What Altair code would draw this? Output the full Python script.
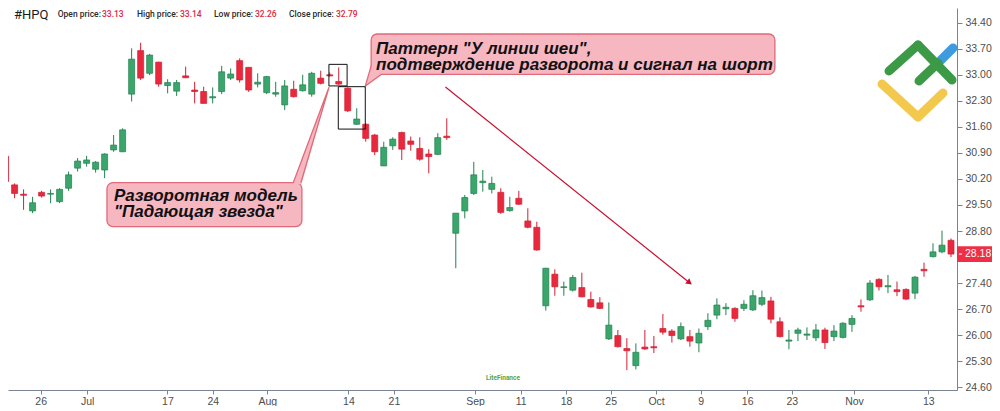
import altair as alt
import pandas as pd

# ---------------- data ----------------
opens = [30.81, 30.04, 29.79, 29.34, 29.84, 29.79, 29.59, 29.95, 30.49, 30.62,
         30.46, 30.44, 30.98, 30.93, 32.48, 33.65, 33.04, 33.34, 32.71, 32.56,
         32.97, 32.59, 32.55, 32.38, 32.55, 32.91, 33.38, 33.20, 32.75, 32.52,
         32.48, 32.19, 32.61, 32.57, 32.48, 32.91, 33.00, 32.82, 32.64, 31.67,
         31.67, 31.38, 30.55, 31.09, 31.45, 31.22, 31.02, 30.87, 30.86, 31.35,
         28.74, 29.34, 29.81, 30.10, 29.92, 29.84, 29.35, 29.68, 29.07, 28.90,
         26.79, 27.64, 27.28, 27.21, 27.28, 26.96, 26.87, 25.90, 25.99, 25.64,
         25.18, 25.68, 25.69, 26.18, 26.11, 25.90, 25.96, 25.79, 26.23, 26.54,
         26.71, 26.72, 26.72, 26.68, 26.83, 26.92, 26.36, 25.84, 26.05, 26.00,
         25.93, 26.14, 25.96, 25.94, 26.29, 26.79, 26.95, 27.50, 27.30, 27.22,
         27.23, 27.13, 27.77, 28.11, 28.24, 28.55]
highs = [30.90, 30.08, 29.92, 29.72, 29.88, 29.92, 29.95, 30.40, 30.76, 30.82,
         30.68, 30.89, 31.38, 31.56, 33.71, 33.86, 33.56, 33.35, 32.88, 32.86,
         33.22, 32.81, 32.68, 32.66, 33.24, 33.17, 33.44, 33.20, 33.04, 32.97,
         32.81, 32.86, 32.84, 33.00, 33.08, 33.11, 33.06, 33.20, 32.66, 32.10,
         31.70, 31.41, 31.20, 31.32, 31.47, 31.34, 31.32, 31.00, 31.43, 31.83,
         29.28, 29.77, 30.66, 30.44, 30.26, 29.95, 29.72, 29.88, 29.41, 29.05,
         27.81, 27.77, 27.44, 27.62, 27.68, 27.17, 27.02, 26.88, 26.14, 25.92,
         25.78, 26.14, 25.98, 26.57, 26.16, 26.34, 26.14, 26.18, 26.59, 26.99,
         26.86, 26.75, 26.94, 27.21, 27.20, 27.03, 26.48, 26.14, 26.20, 26.21,
         26.30, 26.20, 26.27, 26.35, 26.54, 26.96, 27.48, 27.53, 27.62, 27.44,
         27.26, 27.59, 27.95, 28.47, 28.81, 28.60]
lows = [30.05, 29.68, 29.37, 29.28, 29.70, 29.55, 29.55, 29.88, 30.40, 30.53,
        30.37, 30.22, 30.93, 30.93, 32.28, 32.86, 32.99, 32.68, 32.50, 32.43,
        32.91, 32.23, 32.23, 32.23, 32.48, 32.86, 32.79, 32.54, 32.66, 32.48,
        32.41, 32.05, 32.39, 32.55, 32.41, 32.74, 32.95, 32.73, 32.00, 31.65,
        31.20, 30.84, 30.55, 30.98, 30.71, 30.96, 30.69, 30.35, 30.84, 31.25,
        27.80, 29.14, 29.77, 29.86, 29.81, 29.26, 29.32, 29.50, 28.87, 28.27,
        26.66, 27.06, 27.06, 27.17, 27.02, 26.74, 26.70, 25.87, 25.67, 25.06,
        25.08, 25.60, 25.52, 26.01, 25.80, 25.87, 25.69, 25.54, 26.14, 26.43,
        26.54, 26.36, 26.65, 26.65, 26.78, 26.32, 25.94, 25.62, 25.84, 25.87,
        25.84, 25.63, 25.84, 25.91, 26.09, 26.63, 26.92, 27.20, 27.13, 27.05,
        26.94, 26.97, 27.57, 28.09, 28.20, 28.10]
closes = [30.13, 29.81, 29.76, 29.56, 29.74, 29.81, 29.92, 30.31, 30.68, 30.71,
          30.65, 30.87, 31.11, 31.52, 33.42, 32.91, 33.53, 32.75, 32.79, 32.79,
          32.92, 32.55, 32.23, 32.41, 33.08, 33.02, 32.86, 32.59, 32.80, 32.95,
          32.52, 32.70, 32.41, 32.73, 33.04, 32.77, 32.97, 32.75, 32.03, 31.81,
          31.29, 30.93, 31.05, 31.27, 31.00, 31.13, 30.73, 30.80, 31.31, 31.31,
          29.28, 29.70, 30.31, 30.14, 30.08, 29.30, 29.43, 29.52, 28.90, 28.29,
          27.80, 27.30, 27.30, 27.55, 27.03, 26.76, 26.72, 26.27, 25.69, 25.58,
          25.54, 25.63, 25.66, 26.08, 25.99, 26.23, 25.84, 26.05, 26.40, 26.81,
          26.75, 26.45, 26.83, 27.06, 27.01, 26.43, 25.96, 25.87, 26.14, 26.03,
          26.14, 25.80, 26.11, 26.32, 26.45, 26.76, 27.40, 27.30, 27.33, 27.17,
          26.97, 27.56, 27.73, 28.24, 28.42, 28.18]

x_tick_pos = [3.9, 9.07, 17.97, 23.02, 29.07, 38.08, 43.13, 52.14, 57.2, 62.25,
              67.2, 72.25, 77.2, 82.36, 87.31, 94.23, 102.47]
x_tick_labels = ["26", "Jul", "17", "24", "Aug", "14", "21", "Sep", "11", "18",
                 "25", "Oct", "9", "16", "23", "Nov", "13"]
y_ticks = [24.6, 25.3, 26.0, 26.7, 27.4, 28.1, 28.8, 29.5, 30.2, 30.9, 31.6,
           32.3, 33.0, 33.7, 34.4]

ticker = "#HPQ"
header_fields = ["Open price:", "High price:", "Low price:", "Close price:"]
header_values = ["33.13", "33.14", "32.26", "32.79"]

callout1_lines = ["Разворотная модель", "\"Падающая звезда\""]
callout2_lines = ["Паттерн \"У линии шеи\",", "подтверждение разворота и сигнал на шорт"]

# annotation geometry in data units (candle index, price)
star_box = {"x": 35.91, "x2": 37.93, "y": 33.28, "y2": 32.70}
confirm_box = {"x": 36.95, "x2": 39.95, "y": 32.68, "y2": 31.54}
callout1_box = {"x": 11.26, "x2": 32.91, "y": 30.10, "y2": 28.92}
callout2_box = {"x": 40.60, "x2": 85.44, "y": 34.096, "y2": 33.013}
callout1_text_x, callout1_text_y = 12.03, [29.74, 29.30]
callout2_text_x, callout2_text_y = 41.15, [33.69, 33.26]
ptr1_area = {"y": [32.672, 30.064], "x": [35.93, 31.91], "x2": [35.93, 32.86]}
ptr1_line = {"x": [31.95, 35.93, 32.80], "y": [30.099, 32.672, 30.099]}
ptr2_area = {"y": [32.698, 33.013, 33.24], "x": [39.95, 40.38, 40.60], "x2": [39.95, 41.75, 40.60]}
ptr2_line = {"x": [40.60, 39.95, 41.75], "y": [33.24, 32.698, 33.013]}
arrow_x = [48.85, 75.96]
arrow_y = [32.67, 27.41]

# ---------------- styles ----------------
UP, DOWN = "#3aa66c", "#e8293d"
UP_EDGE, DOWN_EDGE = "#22804f", "#d11f34"
PINK, PINK_EDGE = "#f7b7c1", "#e06a78"
AXIS_COL = "#7b8494"
LABEL_COL = "#4d4d4d"
ARROW_COL = "#c8102e"

W, H = 949, 382

candles = pd.DataFrame({"i": list(range(len(opens))), "open": opens, "high": highs,
                        "low": lows, "close": closes})
candles["dir"] = ["up" if c >= o else "down" for o, c in zip(opens, closes)]

xs = alt.Scale(domain=[0.824, 105.11], nice=False, zero=False)
ys = alt.Scale(domain=[24.526, 34.795], nice=False, zero=False)

label_expr = ("[" + ",".join("'%s'" % t for t in x_tick_labels) + "][indexof(["
              + ",".join(str(v) for v in x_tick_pos) + "], datum.value)]")

x_axis = alt.Axis(values=x_tick_pos, labelExpr=label_expr, title=None, grid=False,
                  domainColor=AXIS_COL, tickColor=AXIS_COL, tickSize=4,
                  labelColor=LABEL_COL, labelFont="Liberation Sans", labelFontSize=10.5,
                  labelPadding=2, labelOverlap=False, labelFlush=False)
y_axis = alt.Axis(orient="right", values=y_ticks, format=".2f", title=None, grid=False,
                  domainColor=AXIS_COL, tickColor=AXIS_COL, tickSize=5,
                  labelColor=LABEL_COL, labelFont="Liberation Sans", labelFontSize=10.5,
                  labelPadding=3, labelOverlap=False, labelFlush=False)


def X(field):
    return alt.X(field, type="quantitative", scale=xs, axis=x_axis)


def Y(field):
    return alt.Y(field, type="quantitative", scale=ys, axis=y_axis)


fill_enc = alt.Color("dir:N", scale=alt.Scale(domain=["up", "down"], range=[UP, DOWN]), legend=None)
edge_enc = alt.Stroke("dir:N", scale=alt.Scale(domain=["up", "down"], range=[UP_EDGE, DOWN_EDGE]), legend=None)

wicks = alt.Chart(candles).mark_rule(strokeWidth=1, clip=True).encode(
    x=X("i"), y=Y("low"), y2="high", stroke=edge_enc)
bodies = alt.Chart(candles).mark_bar(size=6, clip=True, strokeWidth=0.7).encode(
    x=X("i"), y=Y("open"), y2="close", color=fill_enc, stroke=edge_enc)


def rect_layer(b, **kw):
    df = pd.DataFrame([b])
    return alt.Chart(df).mark_rect(**kw).encode(x=X("x"), x2="x2", y=Y("y"), y2="y2")


box1 = rect_layer(star_box, fillOpacity=0, stroke="#111111", strokeWidth=1)
box2 = rect_layer(confirm_box, fillOpacity=0, stroke="#111111", strokeWidth=1)
cbox1 = rect_layer(callout1_box, fill=PINK, stroke=PINK_EDGE, strokeWidth=1.3, cornerRadius=6)
cbox2 = rect_layer(callout2_box, fill=PINK, stroke=PINK_EDGE, strokeWidth=1.3, cornerRadius=6)


def ptr_area(d):
    return alt.Chart(pd.DataFrame(d)).mark_area(orient="horizontal", color=PINK).encode(
        y=Y("y"), x=X("x"), x2="x2")


def ptr_line(d):
    df = pd.DataFrame(d)
    df["o"] = range(len(df))
    return alt.Chart(df).mark_line(color=PINK_EDGE, strokeWidth=1.3).encode(
        x=X("x"), y=Y("y"), order="o:Q")


def text_lines(xv, yvals, lines):
    df = pd.DataFrame({"x": [xv] * len(lines), "y": yvals, "t": lines})
    return alt.Chart(df).mark_text(align="left", baseline="middle", font="Liberation Sans",
                                   fontSize=17, fontWeight="bold", fontStyle="italic",
                                   color="#111111").encode(x=X("x"), y=Y("y"), text="t:N")


t1 = text_lines(callout1_text_x, callout1_text_y, callout1_lines)
t2 = text_lines(callout2_text_x, callout2_text_y, callout2_lines)

arrow_df = pd.DataFrame({"x": arrow_x, "y": arrow_y})
arrow = alt.Chart(arrow_df).mark_line(color=ARROW_COL, strokeWidth=1.2).encode(x=X("x"), y=Y("y"))
arrow_head = alt.Chart(arrow_df.tail(1)).mark_point(
    shape="triangle-right", filled=True, size=45, angle=38, color=ARROW_COL, opacity=1).encode(
    x=X("x"), y=Y("y"))

# last price label
last = pd.DataFrame({"y": [closes[-1] + 0.21], "y2": [closes[-1] - 0.21],
                     "c": [closes[-1]], "t": ["%.2f" % closes[-1]]})
price_rect = alt.Chart(last).mark_rect(color="#ee2f45").encode(
    x=alt.value(W), x2=alt.value(W + 35), y=Y("y"), y2="y2")
price_text = alt.Chart(last).mark_text(align="left", baseline="middle", color="white",
                                       font="Liberation Sans", fontSize=10.5).encode(
    x=alt.value(W + 8), y=Y("c"), text="t:N")
price_tick = alt.Chart(last).mark_rule(color="white", strokeWidth=1).encode(
    x=alt.value(W + 2), x2=alt.value(W + 5), y=Y("c"))


# header text (page-fixed)
def fixed_text(txt, px, py, size, color, weight="normal", font="Roboto"):
    return alt.Chart(pd.DataFrame({"t": [txt]})).mark_text(
        align="left", baseline="middle", fontSize=size, color=color, fontWeight=weight,
        font=font).encode(x=alt.value(px), y=alt.value(py), text="t:N")


header = [fixed_text(ticker, 6, 6.5, 13, "#1a1a1a", "normal")]
field_x = [49.7, 129, 206, 281]
value_x = [94, 172, 247, 328]
for f, v, fx, vx in zip(header_fields, header_values, field_x, value_x):
    header.append(fixed_text(f, fx, 6, 8.5, "#2a2a2a", 500))
    header.append(fixed_text(v, vx, 6, 8.5, "#e0283c", 500))

watermark = fixed_text("LiteFinance", 478, 370, 6.5, "#5aa33c", "bold")


# logo (decoration, page-fixed)
def seg(x1, y1, x2, y2, color, w=9):
    return alt.Chart(pd.DataFrame({"a": [0]})).mark_rule(
        color=color, strokeWidth=w, strokeCap="round").encode(
        x=alt.value(x1), y=alt.value(y1), x2=alt.value(x2), y2=alt.value(y2))


GREEN, BLUE, YELLOW = "#3c9a46", "#3f9be0", "#f2c94c"
logo = [
    seg(874, 76, 910, 109, YELLOW), seg(910, 109, 935, 85, YELLOW),
    seg(930, 55, 945, 40, BLUE),
    seg(881, 63, 910, 37, GREEN), seg(910, 37, 944, 72, GREEN),
    seg(911, 73, 930, 55, GREEN),
]

chart = alt.layer(
    wicks, bodies,
    *logo,
    cbox1, cbox2,
    ptr_area(ptr1_area), ptr_line(ptr1_line),
    ptr_area(ptr2_area), ptr_line(ptr2_line),
    box1, box2,
    t1, t2,
    arrow, arrow_head,
    price_rect, price_tick, price_text,
    *header, watermark,
).properties(
    width=W, height=H,
    padding={"left": 0, "top": 0, "right": 35, "bottom": 16},
    autosize=alt.AutoSizeParams(type="none"),
    background="white",
).configure_view(stroke=None)

chart.save("out.html", embed_options={"renderer": "svg", "actions": False})
